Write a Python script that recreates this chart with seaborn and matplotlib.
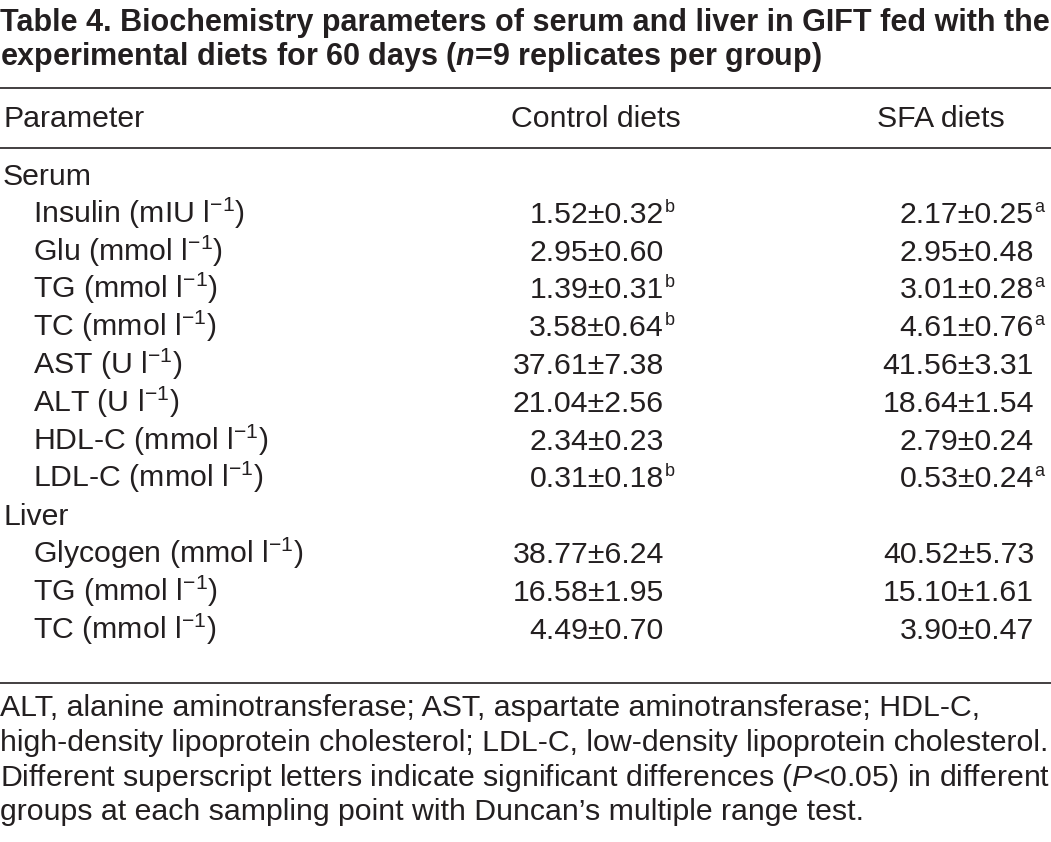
import matplotlib
matplotlib.use("Agg")
import matplotlib.pyplot as plt
import seaborn as sns

# table content
groups = ["Serum", "Liver"]
params = [
    ["Insulin (mIU l$^{-1}$)", "Glu (mmol l$^{-1}$)", "TG (mmol l$^{-1}$)", "TC (mmol l$^{-1}$)",
     "AST (U l$^{-1}$)", "ALT (U l$^{-1}$)", "HDL-C (mmol l$^{-1}$)", "LDL-C (mmol l$^{-1}$)"],
    ["Glycogen (mmol l$^{-1}$)", "TG (mmol l$^{-1}$)", "TC (mmol l$^{-1}$)"],
]
control_mean = [[1.52, 2.95, 1.39, 3.58, 37.61, 21.04, 2.34, 0.31], [38.77, 16.58, 4.49]]
control_sd = [[0.32, 0.60, 0.31, 0.64, 7.38, 2.56, 0.23, 0.18], [6.24, 1.95, 0.70]]
control_sup = [["b", "", "b", "b", "", "", "", "b"], ["", "", ""]]
sfa_mean = [[2.17, 2.95, 3.01, 4.61, 41.56, 18.64, 2.79, 0.53], [40.52, 15.10, 3.90]]
sfa_sd = [[0.25, 0.48, 0.28, 0.76, 3.31, 1.54, 0.24, 0.24], [5.73, 1.61, 0.47]]
sfa_sup = [["a", "", "a", "a", "", "", "", "a"], ["", "", ""]]
headers = ["Parameter", "Control diets", "SFA diets"]
title_lines = ["Table 4. Biochemistry parameters of serum and liver in GIFT fed with the",
               "experimental diets for 60 days ($\\mathbfit{n}$=9 replicates per group)"]
notes = ["ALT, alanine aminotransferase; AST, aspartate aminotransferase; HDL-C,",
         "high-density lipoprotein cholesterol; LDL-C, low-density lipoprotein cholesterol.",
         "Different superscript letters indicate significant differences ($\\mathit{P}$<0.05) in different",
         "groups at each sampling point with Duncan\u2019s multiple range test."]

sns.set_theme(style="white")
plt.rcParams["font.family"] = ["Liberation Sans", "DejaVu Sans"]
plt.rcParams["mathtext.fontset"] = "custom"
plt.rcParams["mathtext.rm"] = "Liberation Sans"
plt.rcParams["mathtext.it"] = "Liberation Sans:italic"
plt.rcParams["mathtext.bf"] = "Liberation Sans:bold"
plt.rcParams["mathtext.bfit"] = "Liberation Sans:bold:italic"
plt.rcParams["mathtext.default"] = "regular"

ink = "#231f20"
fs = 21.8

fig = plt.figure(figsize=(10.51, 8.42), dpi=100)
ax = fig.add_axes([0, 0, 1, 1])
ax.set_xlim(0, 1051)
ax.set_ylim(842, 0)
ax.axis("off")

# title
for i, line in enumerate(title_lines):
    ax.text(0, 31 + i * 34, line, fontsize=22, fontweight="bold", color=ink, va="baseline", ha="left")

# rules
for yr in [88, 148, 683]:
    ax.hlines(yr, 0, 1051, color=ink, lw=1.2)

# header
ax.text(3, 127, headers[0], fontsize=fs, color=ink, va="baseline")
ax.text(511, 127, headers[1], fontsize=fs, color=ink, va="baseline")
ax.text(877, 127, headers[2], fontsize=fs, color=ink, va="baseline")

x_ctrl, x_sfa = 664, 1034
pitch = 37.8
row = 0
for g, name in enumerate(groups):
    y = 185 + row * pitch
    ax.text(3, y, name, fontsize=fs, color=ink, va="baseline")
    row += 1
    for k, p in enumerate(params[g]):
        y = 185 + row * pitch
        ax.text(33, y, p, fontsize=fs, color=ink, va="baseline")
        for xr, mean, sd, sup in [(x_ctrl, control_mean, control_sd, control_sup),
                                  (x_sfa, sfa_mean, sfa_sd, sfa_sup)]:
            t = ax.text(xr, y, f"{mean[g][k]:.2f}\u00b1{sd[g][k]:.2f}", fontsize=fs, color=ink,
                        va="baseline", ha="right")
            if sup[g][k]:
                ax.annotate(sup[g][k], xy=(1, 1), xycoords=t, xytext=(0.5, 1.5),
                            textcoords="offset points", fontsize=13, color=ink, va="top", ha="left")
        row += 1

# footnote
for i, line in enumerate(notes):
    ax.text(0, 716 + i * 34.8, line, fontsize=fs, color=ink, va="baseline")

fig.savefig("out.png", dpi=100)
